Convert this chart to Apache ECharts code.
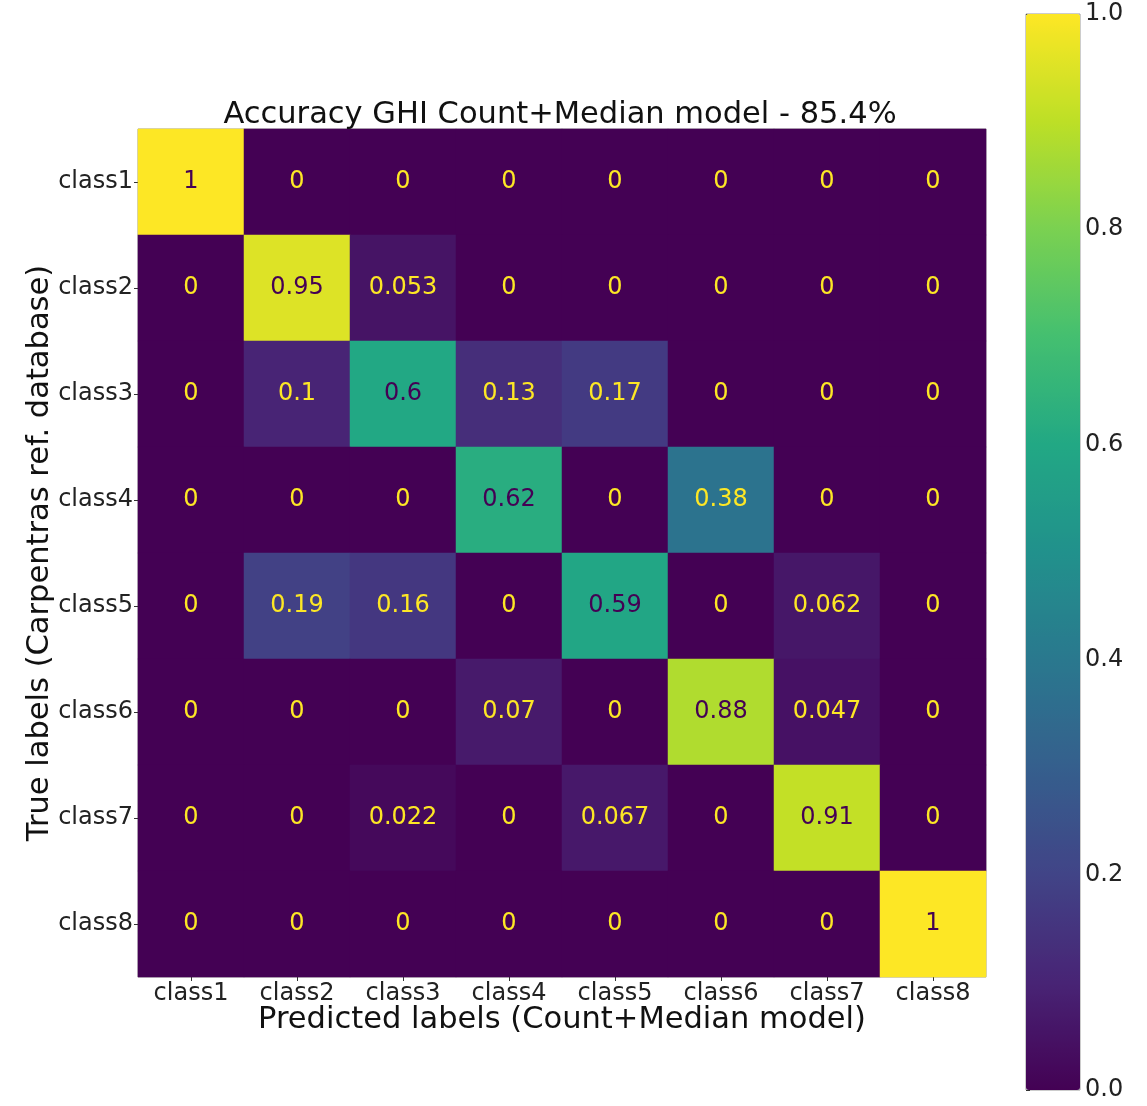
<!DOCTYPE html>
<html>
<head>
<meta charset="utf-8">
<script src="https://cdn.jsdelivr.net/npm/echarts@6/dist/echarts.min.js"></script>
<style>
  html, body { margin: 0; padding: 0; background: #fff; }
  #chart { width: 1147px; height: 1106px; }
</style>
</head>
<body>
<div id="chart"></div>
<script>
// Class names shared by both axes
const predictedClasses = ['class1', 'class2', 'class3', 'class4', 'class5', 'class6', 'class7', 'class8'];
const trueClasses = ['class1', 'class2', 'class3', 'class4', 'class5', 'class6', 'class7', 'class8'];

// Normalised confusion matrix, one row per true class
const rowClass1 = [1, 0, 0, 0, 0, 0, 0, 0];
const rowClass2 = [0, 0.95, 0.053, 0, 0, 0, 0, 0];
const rowClass3 = [0, 0.1, 0.6, 0.13, 0.17, 0, 0, 0];
const rowClass4 = [0, 0, 0, 0.62, 0, 0.38, 0, 0];
const rowClass5 = [0, 0.19, 0.16, 0, 0.59, 0, 0.062, 0];
const rowClass6 = [0, 0, 0, 0.07, 0, 0.88, 0.047, 0];
const rowClass7 = [0, 0, 0.022, 0, 0.067, 0, 0.91, 0];
const rowClass8 = [0, 0, 0, 0, 0, 0, 0, 1];
const matrixRows = [rowClass1, rowClass2, rowClass3, rowClass4, rowClass5, rowClass6, rowClass7, rowClass8];

// Colour bar tick values
const colorbarTicks = [0.0, 0.2, 0.4, 0.6, 0.8, 1.0];

// Viridis colour map stops
const viridis = ['#440154', '#482475', '#414487', '#355f8d', '#2a788e', '#21918c',
                 '#22a884', '#44bf70', '#7ad151', '#bddf26', '#fde725'];

const FONT = 'DejaVu Sans';

const cells = [];
matrixRows.forEach((row, r) => {
  row.forEach((v, c) => {
    cells.push({
      value: [c, r, v],
      label: { color: v >= 0.5 ? '#440154' : '#fde725' }
    });
  });
});

const chart = echarts.init(document.getElementById('chart'), null, { renderer: 'canvas' });

chart.setOption({
  backgroundColor: '#ffffff',
  animation: false,
  title: {
    text: 'Accuracy GHI Count+Median model - 85.4%',
    left: 555, top: 95,
    textAlign: 'center',
    textStyle: { fontFamily: FONT, fontSize: 30.5, fontWeight: 'normal', color: '#111' }
  },
  grid: [
    { left: 138, top: 129, width: 848, height: 848, show: true, borderColor: '#999', borderWidth: 1, backgroundColor: 'transparent' },
    { left: 1026, top: 14, width: 54, height: 1076, show: true, borderColor: '#999', borderWidth: 1, backgroundColor: 'transparent' }
  ],
  xAxis: [
    {
      type: 'category', gridIndex: 0, data: predictedClasses, position: 'bottom',
      name: 'Predicted labels (Count+Median model)', nameLocation: 'middle', nameGap: 43,
      nameMoveOverlap: false,
      nameTextStyle: { fontFamily: FONT, fontSize: 30.5, color: '#111', verticalAlign: 'middle' },
      axisLine: { show: false },
      axisTick: { show: true, alignWithLabel: true, length: 4, lineStyle: { color: '#333' } },
      axisLabel: { fontFamily: FONT, fontSize: 24, color: '#222', margin: 5 },
      splitLine: { show: false }
    },
    {
      type: 'value', gridIndex: 1, show: false, min: 0, max: 1
    }
  ],
  yAxis: [
    {
      type: 'category', gridIndex: 0, data: trueClasses, inverse: true,
      name: 'True labels (Carpentras ref. database)', nameLocation: 'middle', nameGap: 98,
      nameRotate: 90, nameMoveOverlap: false,
      nameTextStyle: { fontFamily: FONT, fontSize: 30.5, color: '#111', verticalAlign: 'middle' },
      axisLine: { show: false },
      axisTick: { show: true, alignWithLabel: true, length: 4, lineStyle: { color: '#333' } },
      axisLabel: { fontFamily: FONT, fontSize: 24, color: '#222', margin: 5 },
      splitLine: { show: false }
    },
    {
      type: 'value', gridIndex: 1, position: 'right', min: 0, max: 1, interval: 0.2,
      axisLine: { show: false },
      axisTick: { show: true, length: 4, lineStyle: { color: '#333' } },
      axisLabel: {
        fontFamily: FONT, fontSize: 24, color: '#222', margin: 5,
        formatter: v => colorbarTicks.some(t => Math.abs(t - v) < 1e-9) ? v.toFixed(1) : ''
      },
      splitLine: { show: false }
    }
  ],
  visualMap: {
    type: 'continuous',
    seriesIndex: 0,
    min: 0, max: 1,
    calculable: false,
    showLabel: false,
    text: null,
    left: 1026, top: 14,
    padding: 0,
    itemWidth: 54, itemHeight: 1076,
    inRange: { color: viridis }
  },
  series: [
    {
      type: 'heatmap',
      xAxisIndex: 0, yAxisIndex: 0,
      data: cells,
      label: {
        show: true,
        fontFamily: FONT, fontSize: 24,
        formatter: p => String(p.value[2])
      },
      itemStyle: { borderWidth: 0 },
      emphasis: { disabled: true }
    }
  ]
});
</script>
</body>
</html>
